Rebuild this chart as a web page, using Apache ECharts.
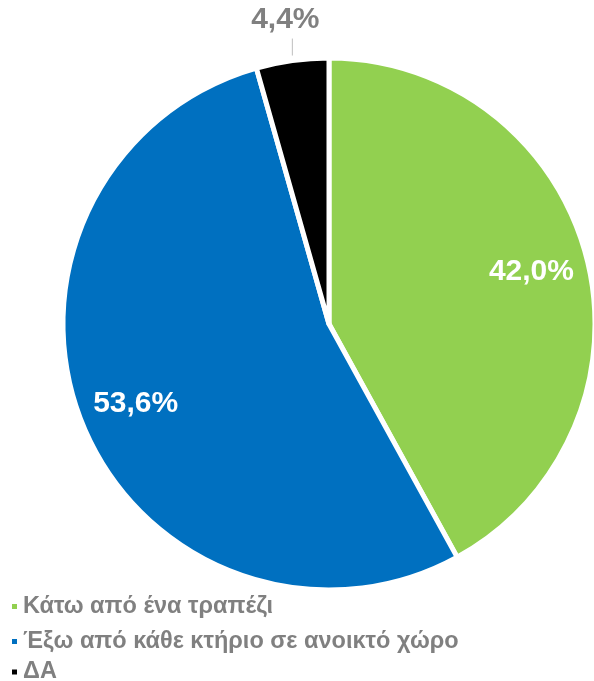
<!DOCTYPE html>
<html>
<head>
<meta charset="utf-8">
<script src="https://cdn.jsdelivr.net/npm/echarts@6/dist/echarts.min.js"></script>
<style>
    html, body { margin: 0; padding: 0; background: #fff; }
    #chart { width: 594px; height: 681px; }
</style>
</head>
<body>
<div id="chart"></div>
<script>
// κατηγορίες και ποσοστά
const categories = ['Κάτω από ένα τραπέζι', 'Έξω από κάθε κτήριο σε ανοικτό χώρο', 'ΔΑ'];
const values = [42.0, 53.6, 4.4];
const colors = ['#92d050', '#0070c0', '#000000'];
const legendTops = [594.5, 629.5, 660];

const fmt = function (v) {
    return v.toFixed(1).replace('.', ',') + '%';
};

let mainData = categories.map(function (name, i) {
    let item = { name: name, value: values[i], itemStyle: { color: colors[i] } };
    if (i === 2) {
        item.label = {
            show: true,
            position: 'outside',
            color: '#808080',
            fontSize: 30,
            fontWeight: 'bold',
            fontFamily: 'Liberation Sans',
            formatter: function (p) { return fmt(p.value); }
        };
        item.labelLine = { show: true, length: 15, length2: 0, lineStyle: { color: '#bfbfbf', width: 1 } };
    }
    return item;
});

// overlay only for inner labels (placed further out than ECharts' default midpoint)
let labelData = categories.map(function (name, i) {
    return {
        name: name,
        value: values[i],
        label: { show: i !== 2 }
    };
});

// one legend per row so nothing wraps into a second column
let legends = categories.map(function (name, i) {
    return {
        orient: 'vertical',
        left: 10,
        top: legendTops[i],
        padding: 0,
        data: [name],
        icon: 'rect',
        itemWidth: 7,
        itemHeight: 7,
        selectedMode: false,
        textStyle: {
            color: '#808080',
            fontSize: 23.5,
            lineHeight: 24,
            fontWeight: 'bold',
            fontFamily: 'Liberation Sans'
        }
    };
});

let myChart = echarts.init(document.getElementById('chart'));
myChart.setOption({
    animation: false,
    legend: legends,
    series: [
        {
            name: 'main',
            type: 'pie',
            center: [329, 324],
            radius: [0, 266],
            startAngle: 90,
            clockwise: true,
            data: mainData,
            itemStyle: { borderColor: '#ffffff', borderWidth: 5 },
            label: { show: false },
            labelLine: { show: false },
            labelLayout: function (p) {
                if (p.dataIndex !== 2 || !p.labelLinePoints) return {};
                let a = p.labelLinePoints[0];
                return {
                    x: a[0] - 7,
                    y: a[1] - 26,
                    align: 'center',
                    verticalAlign: 'bottom',
                    labelLinePoints: [[a[0], a[1] - 5], [a[0], a[1] - 22]]
                };
            },
            emphasis: { disabled: true }
        },
        {
            name: 'labels',
            type: 'pie',
            center: [329, 324],
            radius: [150, 262],
            startAngle: 90,
            clockwise: true,
            silent: true,
            data: labelData,
            itemStyle: { color: 'rgba(0,0,0,0)' },
            label: {
                position: 'inside',
                color: '#ffffff',
                fontSize: 30,
                fontWeight: 'bold',
                fontFamily: 'Liberation Sans',
                formatter: function (p) { return fmt(p.value); }
            },
            labelLine: { show: false },
            emphasis: { disabled: true }
        }
    ]
});
</script>
</body>
</html>
